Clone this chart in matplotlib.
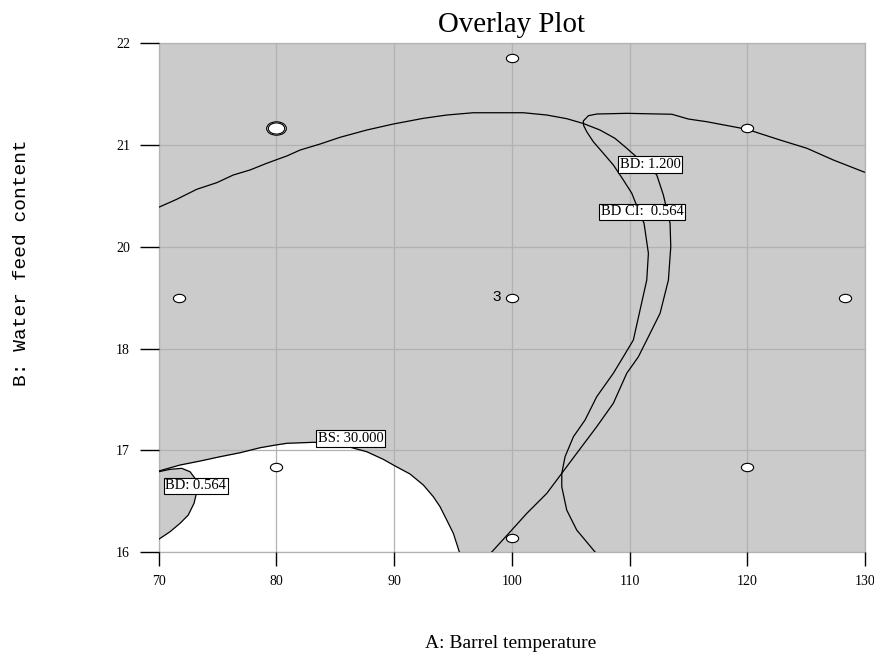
import numpy as np
import matplotlib.pyplot as plt
from matplotlib.path import Path
from matplotlib.transforms import Affine2D

plt.rcParams['font.family'] = ['Liberation Serif', 'DejaVu Serif']

# design points (central composite, center point has 3 replicates)
pt_x = [80, 120, 80, 120, 71.72, 128.28, 100, 100, 100]
pt_y = [21, 21, 17, 17, 19, 19, 16.17, 21.83, 19]
dbl_x = [80]
dbl_y = [21]

# BS: 30.000 boundary (region below it is white)
bs_x = [70.00, 71.81, 73.51, 75.21, 76.91, 78.61, 79.94, 80.88, 83.14, 84.83, 86.11,
        87.67, 89.08, 89.93, 91.35, 92.48, 93.33, 93.90, 94.47, 95.03, 95.54]
bs_y = [16.955, 17.026, 17.073, 17.124, 17.171, 17.230, 17.262, 17.282, 17.294, 17.289, 17.242,
        17.183, 17.093, 17.026, 16.920, 16.790, 16.652, 16.534, 16.377, 16.220, 16.000]

# BD: 0.564 contour, lower-left corner
bdlo_x = [70.00, 70.96, 71.95, 72.66, 73.08, 73.17, 73.00, 72.51, 71.81, 70.96, 70.00]
bdlo_y = [16.947, 16.975, 16.987, 16.947, 16.869, 16.672, 16.574, 16.436, 16.338, 16.239, 16.150]

# BD: 1.200 contour
bd12_x = [70.00, 71.53, 73.23, 74.93, 76.34, 77.76, 79.18, 80.88, 82.01, 83.71, 85.40, 87.67,
          89.93, 92.48, 94.47, 96.73, 100.98, 102.97, 104.66, 106.07, 107.49, 108.76, 109.76,
          110.89, 111.74, 112.31, 112.87, 113.44, 113.50, 113.30, 112.59, 111.46, 110.75,
          109.76, 108.62, 107.21, 105.51, 104.24, 102.97, 101.27, 99.99, 98.29]
bd12_y = [20.066, 20.160, 20.278, 20.356, 20.447, 20.506, 20.585, 20.671, 20.741, 20.812, 20.891,
          20.977, 21.048, 21.115, 21.154, 21.181, 21.181, 21.154, 21.111, 21.054, 20.977, 20.879,
          20.762, 20.623, 20.529, 20.447, 20.211, 19.877, 19.601, 19.208, 18.815, 18.500, 18.303,
          18.108, 17.754, 17.478, 17.164, 16.928, 16.692, 16.456, 16.259, 16.000]

# BD CI: 0.564 contour
bdci_x = [130.00, 129.86, 127.32, 125.06, 122.79, 119.96, 116.56, 114.99, 113.60, 109.76,
          107.21, 106.50, 106.07, 106.10, 106.36, 106.92, 107.77, 108.62, 109.47, 110.19,
          110.47, 111.23, 111.60, 111.46, 110.89, 110.32, 109.47, 108.62, 107.21, 106.22,
          105.23, 104.52, 104.24, 104.24, 104.66, 105.51, 107.07]
bdci_y = [20.478, 20.485, 20.623, 20.762, 20.859, 20.986, 21.075, 21.107, 21.163, 21.174,
          21.166, 21.146, 21.083, 21.030, 20.957, 20.839, 20.703, 20.565, 20.388, 20.231,
          20.132, 19.877, 19.523, 19.208, 18.854, 18.500, 18.303, 18.108, 17.832, 17.557,
          17.360, 17.124, 16.928, 16.770, 16.495, 16.259, 16.000]

# contour labels
lab_text = ['BD: 1.200', 'BD CI:  0.564', 'BS: 30.000', 'BD: 0.564']
lab_x = [111.74, 111.08, 86.32, 73.15]
lab_y = [20.570, 20.013, 17.336, 16.781]

x_ticks = [70, 80, 90, 100, 110, 120, 130]
y_ticks = [16, 17.2, 18.4, 19.6, 20.8, 22]
y_tick_labels = ['16', '17', '18', '20', '21', '22']

gray = '#cbcbcb'
grid_c = '#b2b2b2'

fig = plt.figure(figsize=(8.74, 6.57), dpi=100)
ax = fig.add_axes([0.1816, 0.1598, 0.8081, 0.7743])
ax.set_facecolor(gray)

ax.fill_between(bs_x, 16, bs_y, color='white', lw=0, zorder=1)
ax.fill(bdlo_x, bdlo_y, color=gray, lw=0, zorder=1.5)

for xs, ys in [(bs_x, bs_y), (bdlo_x, bdlo_y), (bd12_x, bd12_y), (bdci_x, bdci_y)]:
    ax.plot(xs, ys, color='black', lw=0.9, zorder=3)

ell = Path.unit_circle().transformed(Affine2D().scale(1.0, 0.68))
ax.plot(pt_x, pt_y, ls='none', marker=ell, ms=8.8, mfc='white', mec='black', mew=0.8, zorder=4)
ax.plot(dbl_x, dbl_y, ls='none', marker=ell, ms=14.2, mfc='white', mec='black', mew=0.8, zorder=4)
ax.plot(dbl_x, dbl_y, ls='none', marker=ell, ms=11.8, mfc='white', mec='black', mew=0.8, zorder=4)
ax.annotate('3', (100, 19), xytext=(-8, 0.5), textcoords='offset points', ha='right', va='center',
            fontsize=11, family=['Liberation Sans', 'DejaVu Sans'], zorder=5)

for s, x, y in zip(lab_text, lab_x, lab_y):
    ax.text(x, y, s, ha='center', va='center', fontsize=10.5, zorder=6,
            bbox=dict(boxstyle='square,pad=0.12', fc='white', ec='black', lw=0.8))

ax.set_xlim(70, 130)
ax.set_ylim(16, 22)
ax.set_xticks(x_ticks)
ax.set_yticks(y_ticks)
ax.set_yticklabels(y_tick_labels)
ax.set_axisbelow(False)
ax.grid(True, color=grid_c, lw=0.9)
for sp in ax.spines.values():
    sp.set_color(grid_c)
    sp.set_linewidth(0.9)
ax.tick_params(axis='x', length=10, width=1.0, pad=6.5, labelsize=10, color='black')
ax.tick_params(axis='y', length=13.7, width=1.0, pad=7, labelsize=10, color='black')

ax.set_title('Overlay Plot', fontsize=20.8, pad=8)
fig.text(0.584, 0.021, 'A: Barrel temperature', ha='center', va='center', fontsize=14)
fig.text(0.025, 0.60, 'B: Water feed content', rotation=90, ha='center', va='center',
         fontsize=14, family=['Liberation Mono', 'DejaVu Sans Mono'])

fig.savefig('out.png', dpi=100)
